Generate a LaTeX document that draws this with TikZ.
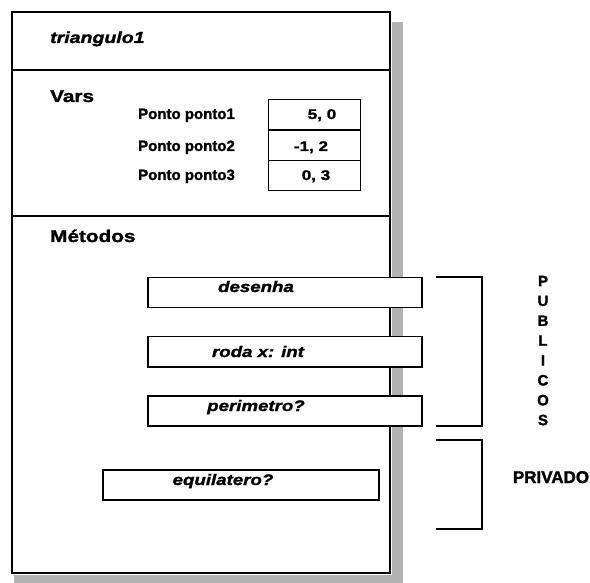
\documentclass[tikz,border=0pt]{standalone}
\usepackage{fontspec}
\setmainfont{Liberation Sans}[BoldFeatures={FakeBold=1.5},BoldItalicFeatures={FakeBold=1.5}]
\newfontfamily\widefont{Liberation Sans}[FakeStretch=1.22,BoldFeatures={FakeBold=1.5},BoldItalicFeatures={FakeBold=1.5}]
\begin{document}
\begin{tikzpicture}[x=1pt,y=-1pt,
  outer/.style={draw=black,line width=2pt},
  valbox/.style={draw=black,line width=1.3pt,minimum width=92pt,minimum height=30pt,inner sep=0pt,anchor=north west},
  methbox/.style={draw=black,fill=white,line width=1.5pt,minimum height=30pt,inner sep=0pt,anchor=north west},
  heading/.style={font=\widefont\fontsize{17}{17}\selectfont\bfseries,anchor=base west,inner sep=0pt},
  vartxt/.style={font=\fontsize{15}{15}\selectfont\bfseries,anchor=base west,inner sep=0pt},
  valtxt/.style={font=\widefont\fontsize{14}{14}\selectfont\bfseries,anchor=base,inner sep=0pt},
  methtxt/.style={font=\widefont\fontsize{15.3}{15.3}\selectfont\bfseries\itshape,anchor=base,inner sep=0pt},
  vletter/.style={font=\fontsize{15}{15}\selectfont\bfseries,anchor=center,inner sep=0pt},
  brack/.style={draw=black,line width=1.5pt},
  shadow/.style={fill=gray!60,draw=none}]
\useasboundingbox (0,0) rectangle (590,583);
% shadow
\fill[shadow] (392,22) rectangle (403,583);
\fill[shadow] (14,575) rectangle (403,583);
% outer box
\draw[outer] (12,12) rectangle (390,573);
\draw[outer] (12,70) -- (390,70);
\draw[outer] (12,216) -- (390,216);
% title
\node[font=\widefont\fontsize{16}{16}\selectfont\bfseries\itshape,anchor=base west,inner sep=0pt] (title) at (50,43) {triangulo1};
% vars
\node[heading] (vars) at (50,102) {Vars};
\node[vartxt] (p1) at (138,119) {Ponto ponto1};
\node[vartxt] (p2) at (138,151) {Ponto ponto2};
\node[vartxt] (p3) at (138,180) {Ponto ponto3};
\node[valbox] (v1) at (268,99) {};
\node[valbox] (v2) at (268,130) {};
\node[valbox] (v3) at (268,160) {};
\node[valtxt] (t1) at (322,119) {5, 0};
\node[valtxt] (t2) at (311,151) {-1, 2};
\node[valtxt] (t3) at (316,180) {0, 3};
% methods
\node[heading] (metodos) at (50,242) {Métodos};
\node[methbox,minimum width=274pt] (m1) at (147,277) {};
\node[methbox,minimum width=274pt] (m2) at (147,336) {};
\node[methbox,minimum width=274pt] (m3) at (147,395) {};
\node[methbox,minimum width=276pt] (m4) at (102,469) {};
\node[methtxt] (l1) at (256,292) {desenha};
\node[methtxt] (l2) at (258,357) {roda x: int};
\node[methtxt] (l3) at (256,411) {perimetro?};
\node[methtxt] (l4) at (223,485) {equilatero?};
% brackets
\draw[brack] (436,277) -- (482,277) -- (482,426) -- (436,426);
\draw[brack] (436,440) -- (482,440) -- (482,529) -- (436,529);
% PUBLICOS
\foreach \c [count=\i from 0] in {P,U,B,L,I,C,O,S}
  \node[vletter] (pub\i) at (543,281+19.86*\i) {\c};
\node[font=\fontsize{17}{17}\selectfont\bfseries,anchor=base,inner sep=0pt] (priv) at (551,483) {PRIVADO};
\end{tikzpicture}
\end{document}
